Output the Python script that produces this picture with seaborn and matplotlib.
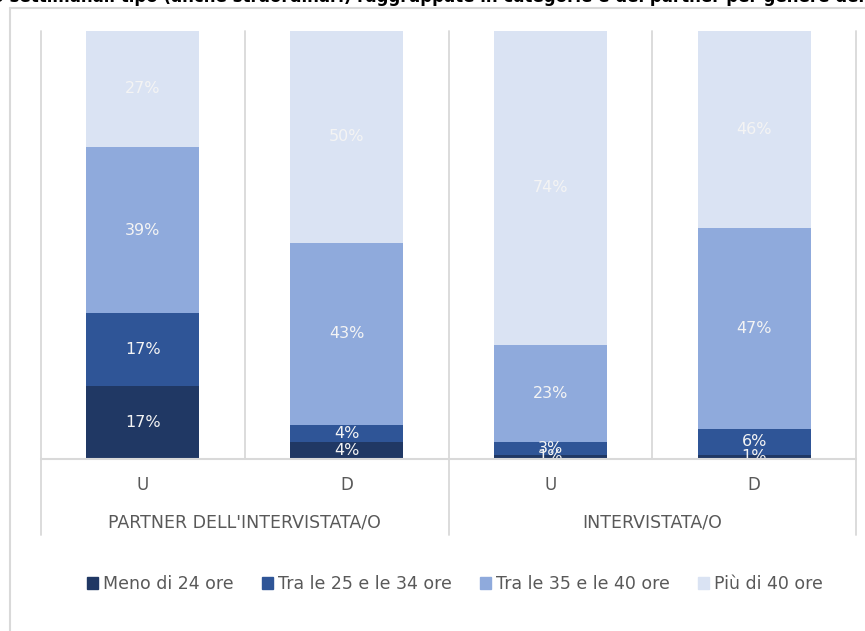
import numpy as np
import pandas as pd
import seaborn as sns
import matplotlib.pyplot as plt
from matplotlib.lines import Line2D

# data (Excel 100% stacked chart)
bar_keys = ['U_p', 'D_p', 'U_i', 'D_i']
bar_labels = ['U', 'D', 'U', 'D']
groups = ["PARTNER DELL'INTERVISTATA/O", 'INTERVISTATA/O']
series = ['Meno di 24 ore', 'Tra le 25 e le 34 ore', 'Tra le 35 e le 40 ore', 'Più di 40 ore']
meno_24 = [17, 4, 1, 1]
tra_25_34 = [17, 4, 3, 6]
tra_35_40 = [39, 43, 23, 47]
piu_40 = [27, 50, 74, 46]
colors = ['#203864', '#2F5597', '#8FAADC', '#DAE3F3']

sns.set_style('white')
plt.rcParams['font.family'] = ['DejaVu Sans']

vals = np.array([meno_24, tra_25_34, tra_35_40, piu_40], dtype=float)
shares = vals / vals.sum(axis=0) * 100
cum = np.cumsum(shares, axis=0)

fig = plt.figure(figsize=(8.65, 6.31), dpi=100)
ax = fig.add_axes([41/865, 1-459/631, (856-41)/865, 428/631])

# overlay cumulative bars, tallest first
for i in range(len(series) - 1, -1, -1):
    df = pd.DataFrame({'bar': bar_keys, 'val': cum[i]})
    sns.barplot(data=df, x='bar', y='val', color=colors[i], saturation=1,
                width=0.555, order=bar_keys, ax=ax, label=series[i], linewidth=0)

# segment labels
for j in range(len(bar_keys)):
    bottom = 0
    for i in range(len(series)):
        ax.text(j, bottom + shares[i, j] / 2, '%d%%' % vals[i, j], ha='center', va='center',
                color='#F4F4F4', fontsize=11.5, clip_on=True)
        bottom += shares[i, j]

ax.set_xlim(-0.5, 3.5)
ax.set_ylim(0, 100)
ax.set_xlabel('')
ax.set_ylabel('')
ax.set_yticks([])
ax.set_xticks(range(4))
ax.set_xticklabels(bar_labels, fontsize=12, color='#595959')
ax.tick_params(axis='x', length=0, pad=12)
for s in ax.spines.values():
    s.set_visible(False)
if ax.get_legend():
    ax.get_legend().remove()

grid = '#D9D9D9'
ax.axhline(0, color=grid, lw=1.5, clip_on=False, zorder=5)
for x in [-0.5, 0.5, 1.5, 2.5, 3.5]:
    ax.plot([x, x], [0, 100], color=grid, lw=1.3, zorder=0, clip_on=False)
for x in [-0.5, 1.5, 3.5]:
    ax.plot([x, x], [0, -0.178], color=grid, lw=1.3, clip_on=False,
            transform=ax.get_xaxis_transform())
for k, g in enumerate(groups):
    ax.text(0.5 + 2 * k, -0.148, g, transform=ax.get_xaxis_transform(), ha='center',
            va='center', fontsize=12.5, color='#595959')

# legend
handles = [plt.Rectangle((0, 0), 1, 1, color=c) for c in colors]
fig.legend(handles, series, loc='center', bbox_to_anchor=(455/865, 1-584/631), ncol=4,
           frameon=False, handlelength=0.65, handleheight=0.65, handletextpad=0.3,
           columnspacing=1.6, prop={'size': 12.5}, labelcolor='#595959')

# chart border and cropped title
fig.add_artist(Line2D([10/865, 1], [1-8/631, 1-8/631], color=grid, lw=1.5))
fig.add_artist(Line2D([10/865, 10/865], [0, 1-8/631], color=grid, lw=1.5))
fig.text(0.5, 1-2.5/631, 'Ore di lavoro settimanali tipo (anche straordinari) raggruppate in categorie e del partner per genere del rispondente',
         ha='center', va='baseline', fontsize=12, fontweight='bold', color='black')

fig.savefig('out.png', dpi=100)
